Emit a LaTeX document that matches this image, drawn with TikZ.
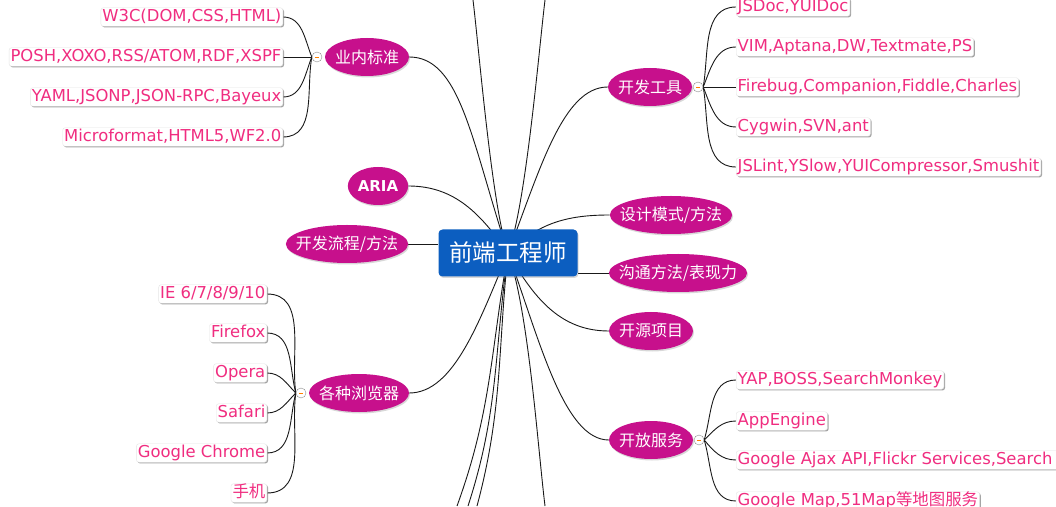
\documentclass[tikz,border=0pt]{standalone}
\usepackage{fontspec}
\setmainfont{DejaVu Sans}
\newfontfamily\cjk{Noto Sans CJK SC}
\usetikzlibrary{shapes.geometric,shadows,backgrounds}
\definecolor{topicpink}{RGB}{199,16,140}
\definecolor{leafpink}{RGB}{240,45,128}
\definecolor{rootblue}{RGB}{12,94,192}
\newcommand\tpbox[1]{\setbox0\hbox{#1}\hbox to \dimexpr(\wd0+20pt)*707/1000\relax{\hss\box0\hss}}
\newcommand\foldmark{\textcolor{orange}{\rule[-2pt]{4pt}{1.2pt}}}
\begin{document}
\begin{tikzpicture}
  [x=1pt,y=1pt,
   root/.style={rectangle,rounded corners=4pt,fill=rootblue,text=white,
     minimum width=139pt,minimum height=47pt,font=\cjk\fontsize{23.5}{24}\selectfont,
     drop shadow={shadow xshift=1pt,shadow yshift=-1.5pt,opacity=.3}},
   topic/.style={ellipse,fill=topicpink,text=white,inner sep=0pt,minimum height=38pt,
     font=\cjk\fontsize{16}{16}\selectfont,
     drop shadow={shadow xshift=1pt,shadow yshift=-1.5pt,opacity=.3}},
   leaf/.style={fill=white,draw=black!10,text=leafpink,rounded corners=2.5pt,
     inner xsep=1.5pt,inner ysep=1.5pt,text height=12pt,text depth=3.5pt,
     font=\fontsize{16.4}{19}\selectfont,
     drop shadow={shadow xshift=1.2pt,shadow yshift=-1.2pt,fill=black!50,opacity=.7}},
   fold/.style={circle,draw=black!45,fill=white,inner sep=0pt,minimum size=10pt},
   link/.style={draw=black!90,line width=.9pt}]
  \useasboundingbox (0,0) rectangle (1056,506);

  % centre and topics
  \node[root] (c) at (508,253) {前端工程师};
  \node[topic] (yn) at (367,449) {\tpbox{业内标准}};
  \node[topic,font=\fontsize{15}{15}\selectfont\bfseries] (aria) at (378,320) {\tpbox{ARIA}};
  \node[topic] (lc) at (347,262) {\tpbox{开发流程/方法}};
  \node[topic] (ll) at (359,113) {\tpbox{各种浏览器}};
  \node[topic] (gj) at (650,419) {\tpbox{开发工具}};
  \node[topic] (sj) at (671,291) {\tpbox{设计模式/方法}};
  \node[topic] (gt) at (678,233) {\tpbox{沟通方法/表现力}};
  \node[topic] (ky) at (651,175) {\tpbox{开源项目}};
  \node[topic] (fw) at (651,66) {\tpbox{开放服务}};

  \node[fold] (ynf) at (317,449) {\foldmark};
  \node[fold] (llf) at (301,113) {\foldmark};
  \node[fold] (gjf) at (698,419) {\foldmark};
  \node[fold] (fwf) at (699,66) {\foldmark};

  % leaves
  \node[leaf,anchor=east] (yn1) at (283,489) {W3C(DOM,CSS,HTML)};
  \node[leaf,anchor=east] (yn2) at (283,449) {POSH,XOXO,RSS/ATOM,RDF,XSPF};
  \node[leaf,anchor=east] (yn3) at (283,409) {YAML,JSONP,JSON-RPC,Bayeux};
  \node[leaf,anchor=east] (yn4) at (283,369) {Microformat,HTML5,WF2.0};

  \node[leaf,anchor=east] (ll1) at (267,212) {IE 6/7/8/9/10};
  \node[leaf,anchor=east] (ll2) at (267,173) {Firefox};
  \node[leaf,anchor=east] (ll3) at (267,133) {Opera};
  \node[leaf,anchor=east] (ll4) at (267,93) {Safari};
  \node[leaf,anchor=east] (ll5) at (267,53) {Google Chrome};
  \node[leaf,anchor=east] (ll6) at (267,13) {{\cjk 手机}};

  \node[leaf,anchor=west] (gj1) at (736,499) {JSDoc,YUIDoc};
  \node[leaf,anchor=west] (gj2) at (736,459) {VIM,Aptana,DW,Textmate,PS};
  \node[leaf,anchor=west] (gj3) at (736,419) {Firebug,Companion,Fiddle,Charles};
  \node[leaf,anchor=west] (gj4) at (736,379) {Cygwin,SVN,ant};
  \node[leaf,anchor=west] (gj5) at (736,339) {JSLint,YSlow,YUICompressor,Smushit};

  \node[leaf,anchor=west] (fw1) at (736,126) {YAP,BOSS,SearchMonkey};
  \node[leaf,anchor=west] (fw2) at (736,85) {AppEngine};
  \node[leaf,anchor=west] (fw3) at (736,46) {Google Ajax API,Flickr Services,Search API};
  \node[leaf,anchor=west] (fw4) at (736,5) {Google Map,51Map{\cjk 等地图服务}};

  % branches leaving the picture
  \coordinate (top1) at (473,506);
  \coordinate (top2) at (545,506);
  \coordinate (bot1) at (457,0);
  \coordinate (bot2) at (468,0);
  \coordinate (bot3) at (477,0);
  \coordinate (bot4) at (545,0);

  \begin{scope}[on background layer]
  \fill[white] (0,0) rectangle (1056,506);
  \path[link]
        (yn.east) edge[out=0,in=108,out distance=51pt,in distance=119pt] (c.center)
        (aria.east) edge[out=0,in=125] (c.center)
        (lc.east) edge (lc.east -| c.west)
        (ll.east) edge[out=0,in=-113,out distance=45pt,in distance=73pt] (c.center)
        (gj.west) edge[out=180,in=69,out distance=45pt,in distance=89pt] (c.center)
        (sj.west) edge[out=180,in=45] (c.center)
        (gt.west) edge (gt.west -| c.east)
        (ky.west) edge[out=180,in=-60] (c.center)
        (fw.west) edge[out=180,in=-70,out distance=45pt,in distance=92pt] (c.center)
        (c.center) edge[out=109,in=-83,looseness=.5] (top1)
        (c.center) edge[out=69,in=-97,looseness=.5] (top2)
        (c.center) edge[out=-100,in=70] (bot1)
        (c.center) edge[out=-98,in=72] (bot2)
        (c.center) edge[out=-96,in=75] (bot3)
        (c.center) edge[out=-70,in=97,looseness=.6] (bot4);
  \path[link]
        (yn1.east) edge[out=0,in=112] (ynf.west)
        (yn2.east) edge (ynf.west)
        (yn3.east) edge[out=0,in=-112] (ynf.west)
        (yn4.east) edge[out=0,in=-100] (ynf.west)
        (ll1.east) edge[out=0,in=98] (llf.west)
        (ll2.east) edge[out=0,in=105] (llf.west)
        (ll3.east) edge[out=0,in=135] (llf.west)
        (ll4.east) edge[out=0,in=-135] (llf.west)
        (ll5.east) edge[out=0,in=-105] (llf.west)
        (ll6.east) edge[out=0,in=-98] (llf.west)
        (gj1.west) edge[out=180,in=80] (gjf.east)
        (gj2.west) edge[out=180,in=68] (gjf.east)
        (gj3.west) edge (gjf.east)
        (gj4.west) edge[out=180,in=-68] (gjf.east)
        (gj5.west) edge[out=180,in=-80] (gjf.east)
        (fw1.west) edge[out=180,in=73] (fwf.east)
        (fw2.west) edge[out=180,in=45] (fwf.east)
        (fw3.west) edge[out=180,in=-50] (fwf.east)
        (fw4.west) edge[out=180,in=-73] (fwf.east);
  \end{scope}
\end{tikzpicture}
\end{document}
